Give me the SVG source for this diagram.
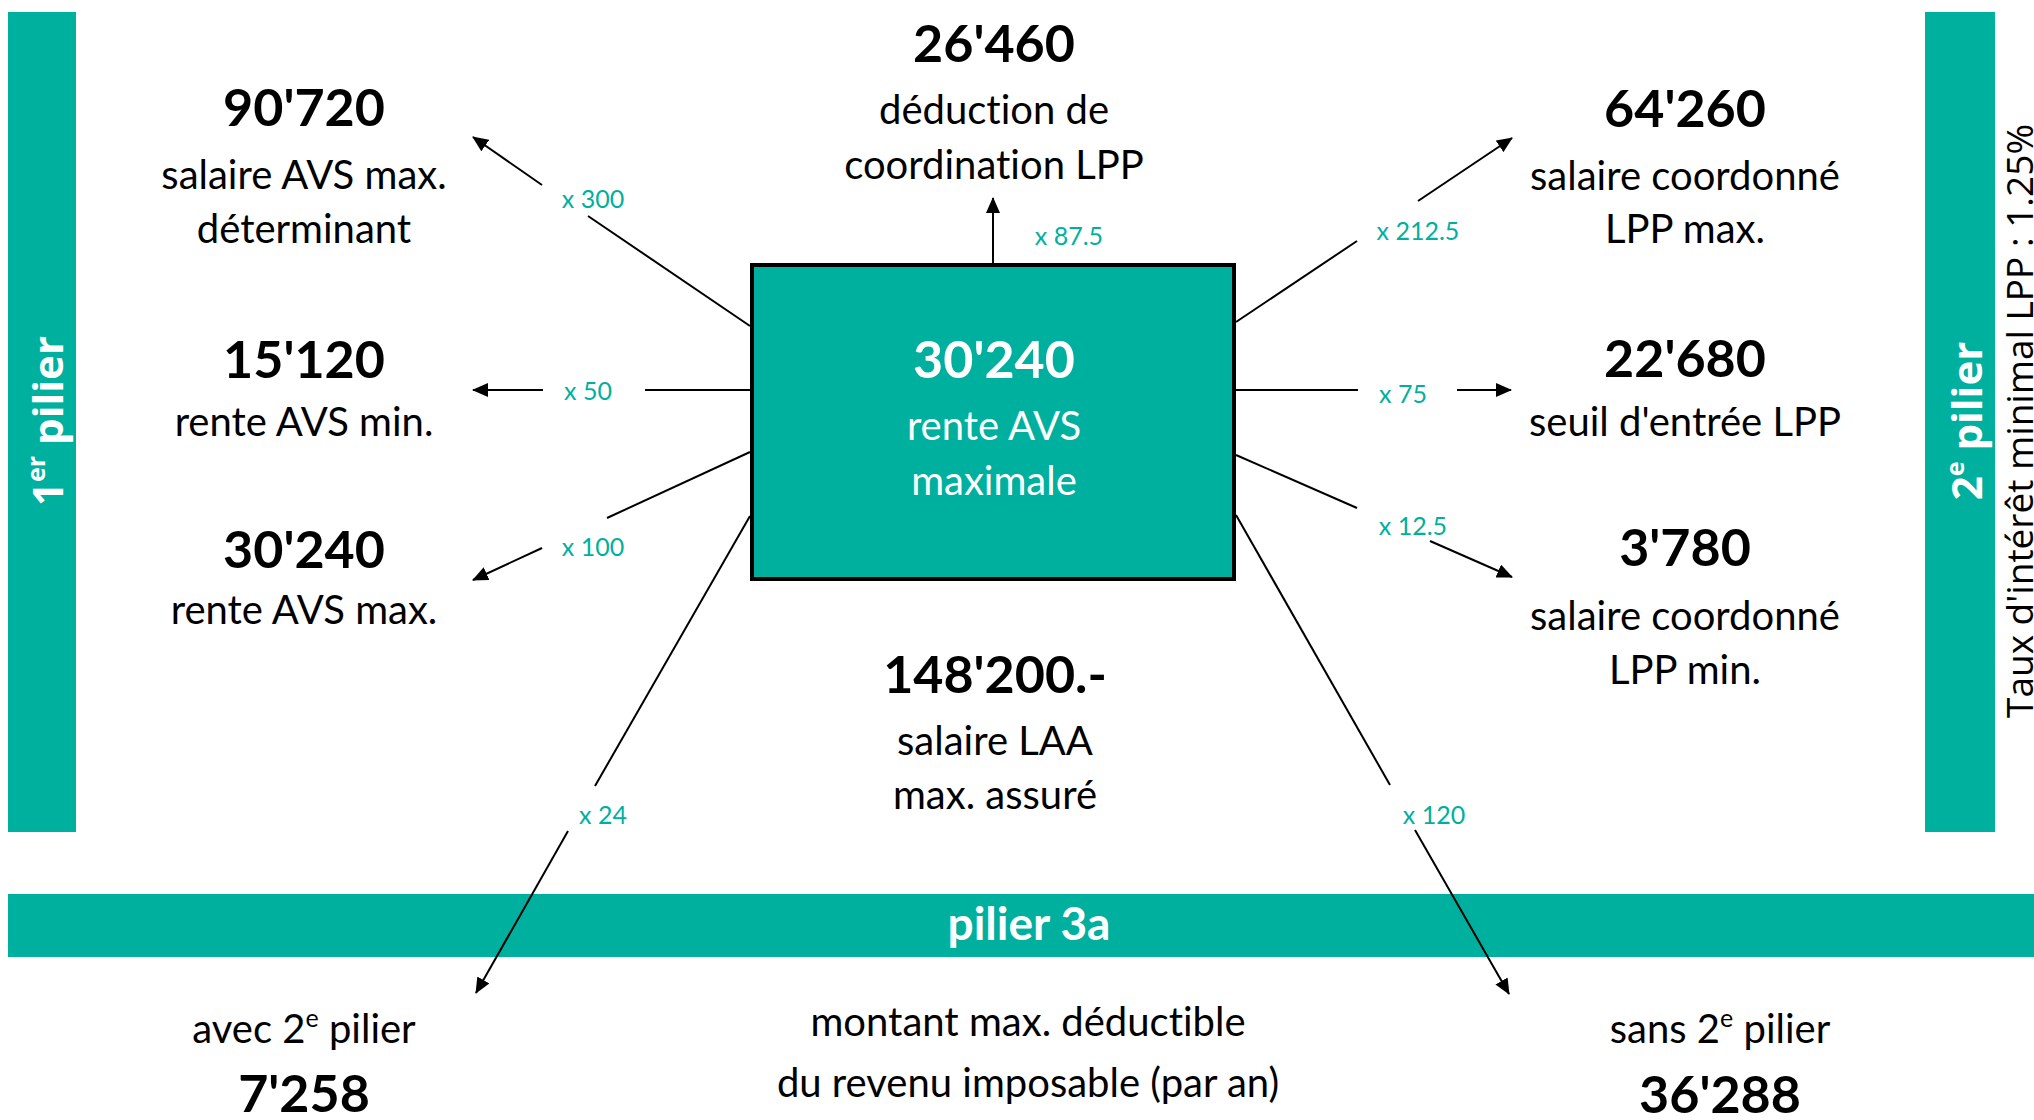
<svg xmlns="http://www.w3.org/2000/svg" width="2034" height="1120" viewBox="0 0 2034 1120">
<style>
text{font-family:Lato,"Open Sans","Liberation Sans",sans-serif;fill:#000;font-variant-ligatures:none}
.n{font-weight:bold;font-size:52px;text-anchor:middle}
.t{font-size:40px;text-anchor:middle}
.w{fill:#fff}
.lb{font-size:25px;fill:#00B09F;text-anchor:middle}
.bar{fill:#00B09F}
.v{font-family:"Open Sans","Liberation Sans",sans-serif;font-weight:bold;font-size:42px;fill:#fff;text-anchor:middle}
.c{stroke:#000;stroke-width:2;fill:none}
.a{marker-end:url(#ah)}
</style>
<defs>
<marker id="ah" viewBox="0 0 16 14" markerWidth="16" markerHeight="14" refX="15" refY="7" orient="auto" markerUnits="userSpaceOnUse">
<path d="M0,0 L16,7 L0,14 z" fill="#000"/>
</marker>
</defs>

<g id="pilier1">
<rect class="bar" x="8" y="12" width="68" height="820"/>
<text class="v" transform="translate(63,421) rotate(-90)">1<tspan font-size="25" dy="-18">er</tspan><tspan dy="18"> pilier</tspan></text>
</g>
<g id="pilier2">
<rect class="bar" x="1925" y="12" width="70" height="820"/>
<text class="v" transform="translate(1982,421) rotate(-90)">2<tspan font-size="25" dy="-18">e</tspan><tspan dy="18"> pilier</tspan></text>
</g>
<g id="taux">
<text transform="translate(2033,718) rotate(-90)" style="font-family:'Open Sans','Liberation Sans',sans-serif;font-size:37px">Taux d'intérêt minimal LPP : 1.25%</text>
</g>
<g id="pilier3a">
<rect class="bar" x="8" y="894" width="2026" height="63"/>
<text class="w" x="1029" y="940" style="font-weight:bold;font-size:46px;text-anchor:middle">pilier 3a</text>
</g>

<g id="connectors">
<line class="c" x1="750" y1="326" x2="588" y2="216"/>
<line class="c a" x1="542" y1="185" x2="473" y2="137"/>
<line class="c" x1="750" y1="390" x2="645" y2="390"/>
<line class="c a" x1="543" y1="390" x2="473" y2="390"/>
<line class="c" x1="750" y1="452" x2="607" y2="518"/>
<line class="c a" x1="542" y1="548" x2="473" y2="580"/>
<line class="c" x1="750" y1="516" x2="595" y2="786"/>
<line class="c a" x1="568" y1="831" x2="476" y2="993"/>
<line class="c a" x1="993" y1="264" x2="993" y2="198"/>
<line class="c" x1="1236" y1="322" x2="1357" y2="241"/>
<line class="c a" x1="1418" y1="201" x2="1512" y2="138"/>
<line class="c" x1="1236" y1="390" x2="1358" y2="390"/>
<line class="c a" x1="1457" y1="390" x2="1511" y2="390"/>
<line class="c" x1="1236" y1="455" x2="1357" y2="508"/>
<line class="c a" x1="1430" y1="541" x2="1512" y2="577"/>
<line class="c" x1="1236" y1="515" x2="1390" y2="785"/>
<line class="c a" x1="1415" y1="830" x2="1509" y2="994"/>
<text class="lb" x="593" y="208">x 300</text>
<text class="lb" x="588" y="400">x 50</text>
<text class="lb" x="593" y="556">x 100</text>
<text class="lb" x="603" y="824">x 24</text>
<text class="lb" x="1069" y="245">x 87.5</text>
<text class="lb" x="1418" y="240">x 212.5</text>
<text class="lb" x="1403" y="403">x 75</text>
<text class="lb" x="1413" y="535">x 12.5</text>
<text class="lb" x="1434" y="824">x 120</text>
</g>

<g id="center">
<rect x="752" y="265" width="482" height="314" fill="#00B09F" stroke="#000" stroke-width="4"/>
<text class="n w" x="994" y="378">30'240</text>
<text class="t w" x="994" y="440">rente AVS</text>
<text class="t w" x="994" y="495">maximale</text>
</g>

<g id="n90720">
<text class="n" x="304" y="126">90'720</text>
<text class="t" x="304" y="189">salaire AVS max.</text>
<text class="t" x="304" y="243">déterminant</text>
</g>
<g id="n15120">
<text class="n" x="304" y="378">15'120</text>
<text class="t" x="304" y="436">rente AVS min.</text>
</g>
<g id="n30240">
<text class="n" x="304" y="568">30'240</text>
<text class="t" x="304" y="624">rente AVS max.</text>
</g>
<g id="n26460">
<text class="n" x="994" y="62">26'460</text>
<text class="t" x="994" y="124">déduction de</text>
<text class="t" x="994" y="179">coordination LPP</text>
</g>
<g id="n64260">
<text class="n" x="1685" y="127">64'260</text>
<text class="t" x="1685" y="190">salaire coordonné</text>
<text class="t" x="1685" y="243">LPP max.</text>
</g>
<g id="n22680">
<text class="n" x="1685" y="377">22'680</text>
<text class="t" x="1685" y="436">seuil d'entrée LPP</text>
</g>
<g id="n3780">
<text class="n" x="1685" y="566">3'780</text>
<text class="t" x="1685" y="630">salaire coordonné</text>
<text class="t" x="1685" y="684">LPP min.</text>
</g>
<g id="n148200">
<text class="n" x="995" y="693">148'200.-</text>
<text class="t" x="995" y="755">salaire LAA</text>
<text class="t" x="995" y="809">max. assuré</text>
</g>
<g id="avec">
<text class="t" x="304" y="1043">avec 2<tspan font-size="25" dy="-16">e</tspan><tspan dy="16"> pilier</tspan></text>
<text class="n" x="304" y="1112">7'258</text>
</g>
<g id="montant">
<text class="t" x="1028" y="1036">montant max. déductible</text>
<text class="t" x="1028" y="1097">du revenu imposable (par an)</text>
</g>
<g id="sans">
<text class="t" x="1720" y="1043">sans 2<tspan font-size="25" dy="-16">e</tspan><tspan dy="16"> pilier</tspan></text>
<text class="n" x="1720" y="1113">36'288</text>
</g>
</svg>
